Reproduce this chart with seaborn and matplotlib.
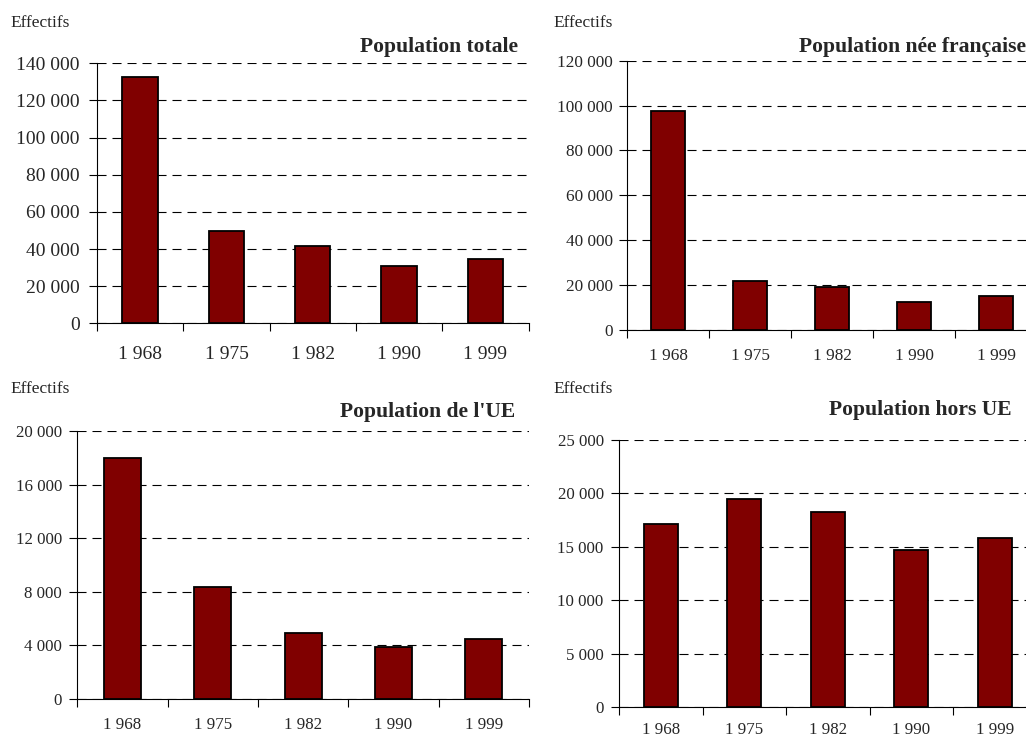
import numpy as np
import pandas as pd
import seaborn as sns
import matplotlib.pyplot as plt
from matplotlib.ticker import FuncFormatter, FixedLocator

# Data
annees = ["1 968", "1 975", "1 982", "1 990", "1 999"]
pop_totale = [132500, 49500, 41800, 30700, 34800]
pop_nee_francaise = [97500, 21800, 19300, 12500, 15000]
pop_ue = [18000, 8400, 4900, 3850, 4450]
pop_hors_ue = [17100, 19500, 18200, 14650, 15800]

titres = ["Population totale", "Population née française",
          "Population de l'UE", "Population hors UE"]
y_max = [140000, 120000, 20000, 25000]
y_step = [20000, 20000, 4000, 5000]

sns.set_theme(style="white")
plt.rcParams['font.family'] = ['Liberation Serif', 'DejaVu Serif']
plt.rcParams['lines.scale_dashes'] = False

W, H = 1026, 738
fig = plt.figure(figsize=(W / 100, H / 100), dpi=100)

def px_axes(left, right, top, bottom):
    return fig.add_axes([left / W, 1 - bottom / H, (right - left) / W, (bottom - top) / H])

# layout in pixels: axes box, title anchor, "Effectifs" anchor, font sizes, pads
panels = [
    dict(box=(97, 528.5, 63.3, 323.3), title=(518, 47), eff=(10, 23), fs=14, tfs=15.6, xpad=16, ypad=6.5),
    dict(box=(627.3, 1037.3, 60.7, 330), title=(1026, 47), eff=(553, 23), fs=12.4, tfs=15.6, xpad=13, ypad=4.5),
    dict(box=(77.3, 529, 431.3, 699), title=(515, 412), eff=(10, 389), fs=12.2, tfs=15.6, xpad=13, ypad=5),
    dict(box=(619, 1036.5, 439.7, 707), title=(1012, 410), eff=(553, 389), fs=12.2, tfs=15.6, xpad=10.5, ypad=5),
]
series = [pop_totale, pop_nee_francaise, pop_ue, pop_hors_ue]

fmt = FuncFormatter(lambda v, p: f"{int(round(v)):,}".replace(",", " "))

for i, (p, vals) in enumerate(zip(panels, series)):
    ax = px_axes(*p['box'])
    df = pd.DataFrame({'annee': annees, 'effectif': vals})
    sns.barplot(data=df, x='annee', y='effectif', color='#800000', saturation=1,
                edgecolor='black', linewidth=1.3, width=0.41, ax=ax, zorder=3)
    ax.set_xlim(-0.5, len(annees) - 0.5)
    ax.set_ylim(0, y_max[i])
    ax.set_yticks(np.arange(0, y_max[i] + 1, y_step[i]))
    ax.yaxis.set_major_formatter(fmt)
    ax.set_xlabel('')
    ax.set_ylabel('')

    # x ticks at category boundaries, labels centred
    ax.xaxis.set_major_locator(FixedLocator(np.arange(-0.5, len(annees), 1.0)))
    ax.xaxis.set_major_formatter(FuncFormatter(lambda v, p: ''))
    ax.xaxis.set_minor_locator(FixedLocator(np.arange(len(annees))))
    ax.set_xticklabels(annees, minor=True)
    ax.tick_params(axis='x', which='major', direction='out', length=6, width=0.8, color='black', bottom=True)
    ax.tick_params(axis='x', which='minor', length=0, pad=p['xpad'], labelsize=p['fs'], bottom=True)
    ax.tick_params(axis='y', direction='out', length=6, width=0.8, color='black', left=True,
                   pad=p['ypad'], labelsize=p['fs'])

    ax.yaxis.grid(True, linestyle=(0, (6.5, 4.3)), color='black', linewidth=0.8)
    ax.set_axisbelow(True)
    sns.despine(ax=ax)
    for s in ['left', 'bottom']:
        ax.spines[s].set_color('black')
        ax.spines[s].set_linewidth(0.8)

    fig.text(p['title'][0] / W, 1 - p['title'][1] / H, titres[i], ha='right', va='center',
             fontsize=p['tfs'], fontweight='bold')
    fig.text(p['eff'][0] / W, 1 - p['eff'][1] / H, "Effectifs", ha='left', va='center', fontsize=12.5)

fig.savefig('out.png', dpi=100)
